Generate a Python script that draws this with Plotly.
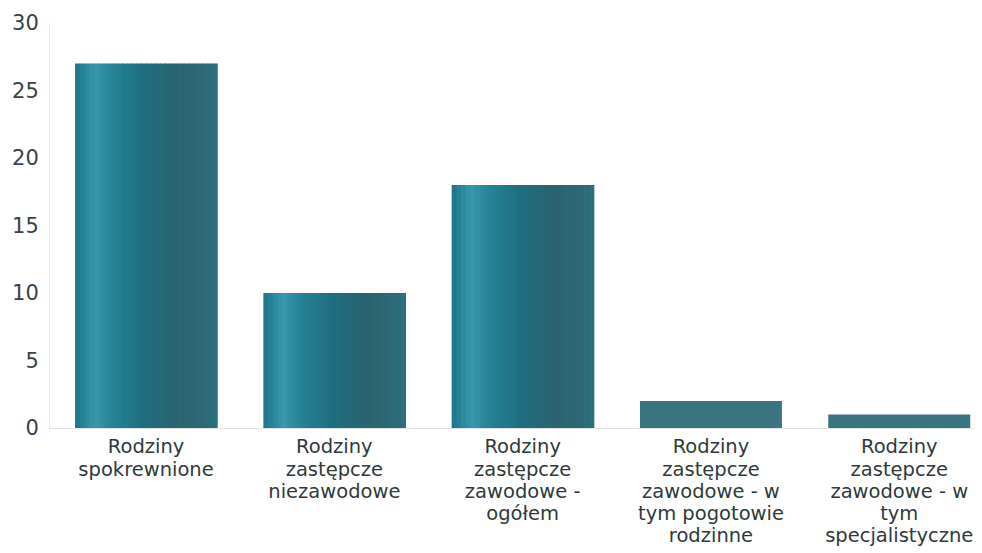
import plotly.graph_objects as go

categories = [
    "Rodziny<br>spokrewnione",
    "Rodziny<br>zastępcze<br>niezawodowe",
    "Rodziny<br>zastępcze<br>zawodowe -<br>ogółem",
    "Rodziny<br>zastępcze<br>zawodowe - w<br>tym pogotowie<br>rodzinne",
    "Rodziny<br>zastępcze<br>zawodowe - w<br>tym<br>specjalistyczne",
]
values = [27, 10, 18, 2, 1]
y_ticks = [0, 5, 10, 15, 20, 25, 30]

BAR_W = 0.754
N_SLICES = 30
stops = [
    (0.00, (0x1d, 0x74, 0x88)),
    (0.14, (0x38, 0x98, 0xad)),
    (0.26, (0x27, 0x82, 0x96)),
    (0.48, (0x1f, 0x6e, 0x80)),
    (0.72, (0x2a, 0x63, 0x6f)),
    (0.88, (0x2e, 0x68, 0x74)),
    (1.00, (0x2a, 0x6f, 0x7d)),
]


def grad(t):
    for (t0, c0), (t1, c1) in zip(stops[:-1], stops[1:]):
        if t0 <= t <= t1:
            f = (t - t0) / (t1 - t0) if t1 > t0 else 0
            c = [round(a + (b - a) * f) for a, b in zip(c0, c1)]
            return "rgb(%d,%d,%d)" % tuple(c)
    return "rgb(%d,%d,%d)" % stops[-1][1]


def big(label):
    return "<br>".join('<span style="font-size:19.5px">%s</span>' % p for p in label.split("<br>"))


fig = go.Figure()
step = BAR_W / N_SLICES
grad_x = categories[:3]
grad_y = values[:3]
for i in range(N_SLICES):
    t = (i + 0.5) / N_SLICES
    fig.add_trace(go.Bar(
        x=grad_x, y=grad_y,
        width=step * 1.15, offset=-BAR_W / 2 + i * step,
        marker=dict(color=grad(t), line=dict(width=0)),
        showlegend=False, hoverinfo="skip",
    ))
fig.add_trace(go.Bar(
    x=categories[3:], y=values[3:],
    width=BAR_W,
    marker=dict(color="#3b7480", line=dict(width=0)),
    showlegend=False,
))

fig.update_layout(
    width=982, height=553,
    margin=dict(l=42, r=6, t=15, b=133),
    paper_bgcolor="white", plot_bgcolor="white",
    barmode="overlay",
    font=dict(family="DejaVu Sans", color="#333d3f"),
    xaxis=dict(
        type="category",
        categoryorder="array", categoryarray=categories,
        tickvals=categories, ticktext=[big(c) for c in categories],
        range=[-0.51, 4.45],
        showgrid=False, showline=True, linecolor="#e2e4e4", linewidth=1,
        ticks="", tickfont=dict(size=17, color="#2f3a3c"),
        ticklabelstandoff=4,
        zeroline=False, automargin=False,
    ),
    yaxis=dict(
        range=[0, 30], tickvals=y_ticks,
        showgrid=False, showline=True, linecolor="#e6e8e8", linewidth=1,
        ticks="", tickfont=dict(size=21, color="#3a4446"),
        ticklabelstandoff=6, zeroline=False, automargin=False,
    ),
)

fig.write_html("out.html")
